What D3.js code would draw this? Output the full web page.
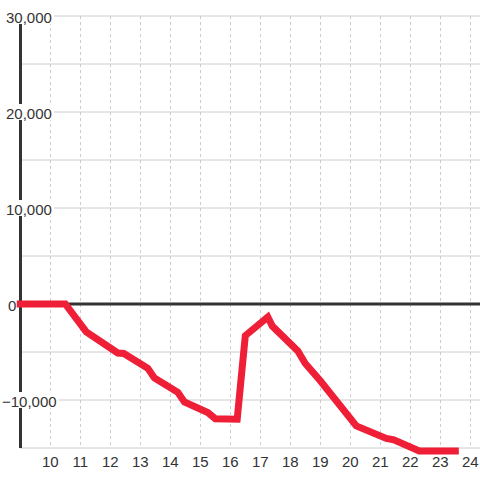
<!DOCTYPE html>
<html><head><meta charset="utf-8">
<script src="https://cdn.jsdelivr.net/npm/d3@7"></script>
<style>
html,body{margin:0;padding:0;background:#fff;}
svg{display:block;font-family:"Liberation Sans",Arial,sans-serif;}
</style></head>
<body>
<script>
const hours = [9.0, 10.5, 11.2, 12.25, 12.45, 13.25, 13.47, 14.25, 14.47, 15.25, 15.5, 16.23, 16.5, 17.25, 17.4, 18.25, 18.5, 19.0, 20.2, 21.2, 21.45, 22.3, 23.5];
const values = [0, 0, -2900, -5100, -5150, -6700, -7700, -9200, -10200, -11300, -11950, -12000, -3300, -1350, -2300, -4900, -6200, -8000, -12700, -14000, -14150, -15300, -15300];
const xTicks = [10, 11, 12, 13, 14, 15, 16, 17, 18, 19, 20, 21, 22, 23, 24];
const yGrid = [-15000, -10000, -5000, 0, 5000, 10000, 15000, 20000, 25000, 30000];
const yLabels = [-10000, 0, 10000, 20000, 30000];

const W = 480, H = 480;
const svg = d3.select("body").append("svg").attr("width", W).attr("height", H);
svg.append("rect").attr("width", W).attr("height", H).attr("fill", "#fff");

const x = d3.scaleLinear().domain([9, 24]).range([20.3, 470.3]);
const y = d3.scaleLinear().domain([-15000, 30000]).range([448, 16]);

// horizontal gridlines
svg.append("g").selectAll("line").data(yGrid).join("line")
  .attr("x1", 20).attr("x2", W)
  .attr("y1", d => y(d)).attr("y2", d => y(d))
  .attr("stroke", "#cccccc").attr("stroke-width", 1);

// vertical dashed gridlines
svg.append("g").selectAll("line").data(xTicks).join("line")
  .attr("x1", d => Math.round(x(d)) + 0.5).attr("x2", d => Math.round(x(d)) + 0.5)
  .attr("y1", y(30000)).attr("y2", y(-15000))
  .attr("stroke", "#cccccc").attr("stroke-width", 1)
  .attr("stroke-dasharray", "3,3");

// left axis line
svg.append("line").attr("x1", 20.5).attr("x2", 20.5)
  .attr("y1", y(30000)).attr("y2", y(-15000))
  .attr("stroke", "#333").attr("stroke-width", 3);

// zero line
svg.append("line").attr("x1", 20).attr("x2", W)
  .attr("y1", y(0)).attr("y2", y(0))
  .attr("stroke", "#333").attr("stroke-width", 3);

// y labels with white background
const fmt = d3.format(",");
const yl = svg.append("g").selectAll("g").data(yLabels).join("g")
  .attr("transform", d => `translate(0,${y(d)})`);
yl.each(function(d){
  const g = d3.select(this);
  const t = g.append("text")
    .attr("x", d < 0 ? 2 : (d === 0 ? 8 : 6)).attr("y", 6.5)
    .attr("font-size", 15).attr("fill", "#333")
    .text(fmt(d));
  const b = t.node().getBBox();
  g.insert("rect", "text")
    .attr("x", b.x - 1).attr("y", -8)
    .attr("width", b.width + 3).attr("height", 16)
    .attr("fill", "#fff");
});

// x labels
svg.append("g").selectAll("text").data(xTicks).join("text")
  .attr("x", d => x(d)).attr("y", 467)
  .attr("text-anchor", "middle")
  .attr("font-size", 15).attr("fill", "#333")
  .text(d => d);

// data line
const line = d3.line().x((d, i) => x(hours[i])).y(d => y(d));
svg.append("path").datum(values)
  .attr("d", line)
  .attr("fill", "none")
  .attr("stroke", "#ee1f36")
  .attr("stroke-width", 7)
  .attr("stroke-linejoin", "miter")
  .attr("stroke-linecap", "square");
</script>
</body></html>
